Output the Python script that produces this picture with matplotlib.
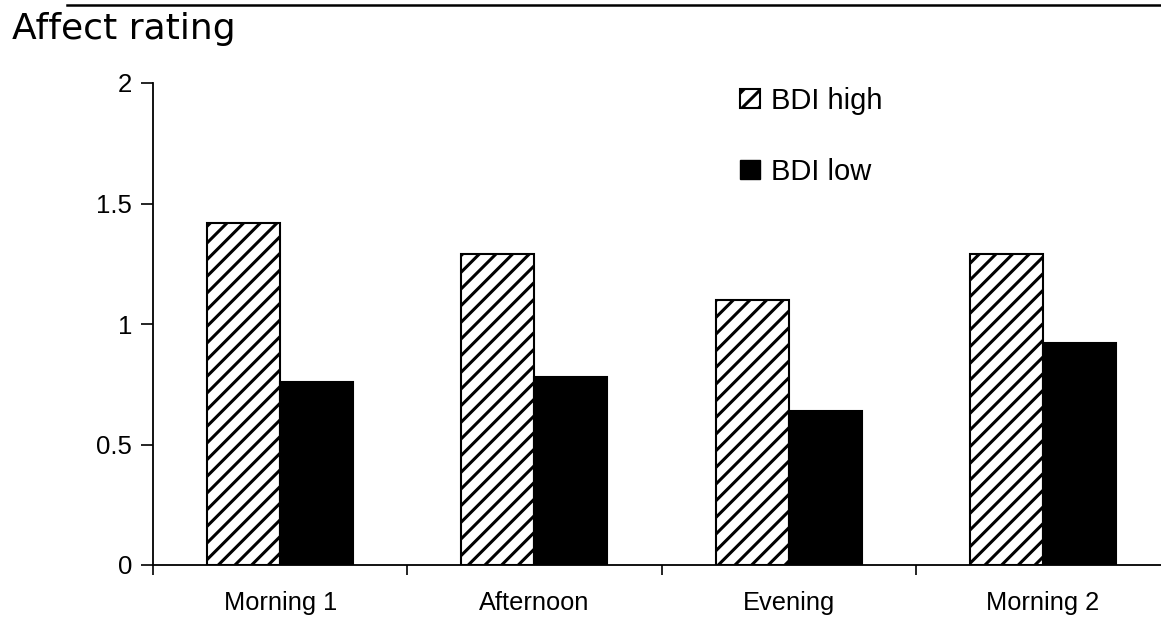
import numpy as np
import matplotlib
matplotlib.use("Agg")
from matplotlib import pyplot as plt
from matplotlib.lines import Line2D
from matplotlib.patches import Patch

categories = ["Morning 1", "Afternoon", "Evening", "Morning 2"]
bdi_high = [1.42, 1.29, 1.10, 1.29]
bdi_low = [0.76, 0.78, 0.64, 0.92]
yticks = [0, 0.5, 1, 1.5, 2]
ytick_labels = ["0", "0.5", "1", "1.5", "2"]

plt.rcParams["hatch.linewidth"] = 2.2
plt.rcParams["font.family"] = ["Liberation Sans", "DejaVu Sans"]

W, H = 1161, 623
fig = plt.figure(figsize=(W / 100, H / 100), dpi=100)
ax = fig.add_axes([153 / W, (H - 565) / H, (1170 - 153) / W, (565 - 83) / H])

x = np.arange(len(categories))
bw = 0.287
ax.bar(x - bw / 2, bdi_high, bw, color="white", edgecolor="black",
       hatch="//", linewidth=1.5, label="BDI high", zorder=2)
ax.bar(x + bw / 2, bdi_low, bw, color="black", edgecolor="black",
       linewidth=1.5, label="BDI low", zorder=2)

ax.set_xlim(-0.5, 3.5)
ax.set_ylim(0, 2)
ax.set_yticks(yticks)
ax.set_yticklabels(ytick_labels, fontsize=18.5)
ax.set_xticks(x)
ax.set_xticklabels(categories, fontsize=18.3)
ax.set_xticks(np.arange(len(categories) + 1) - 0.5, minor=True)
ax.tick_params(axis="x", which="major", length=0, pad=19)
ax.tick_params(axis="x", which="minor", length=7, width=1.2, direction="out")
ax.tick_params(axis="y", length=9, width=1.2, direction="out", pad=6)
for side in ["top", "right"]:
    ax.spines[side].set_visible(False)
for side in ["left", "bottom"]:
    ax.spines[side].set_linewidth(1.3)
    ax.spines[side].set_zorder(3)

handles = [Patch(facecolor="white", edgecolor="black", hatch="//", linewidth=1.5),
           Patch(facecolor="black", edgecolor="black")]
fig.legend(handles, ["BDI high", "BDI low"], loc="upper left",
           bbox_to_anchor=(740 / W, 1 - 87 / H), frameon=False, fontsize=21,
           borderpad=0, borderaxespad=0, handlelength=0.68, handleheight=0.62,
           handletextpad=0.38, labelspacing=1.46)

fig.text(12 / W, 1 - 39 / H, "Affect rating", fontsize=26,
         family="DejaVu Sans", va="baseline", ha="left")
fig.add_artist(Line2D([67 / W, 1.0], [1 - 5 / H, 1 - 5 / H],
                      color="black", linewidth=1.8, transform=fig.transFigure))

fig.savefig("out.png", dpi=100)
